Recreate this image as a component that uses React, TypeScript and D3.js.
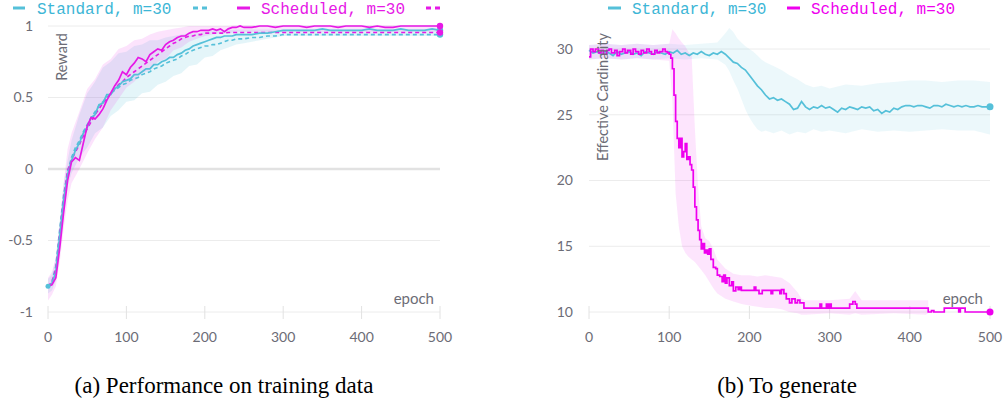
import React from 'react';
import * as d3 from 'd3';

// ---------------- DATA ----------------
const X_TICKS = [0, 100, 200, 300, 400, 500];
const L_Y_TICKS = [-1, -0.5, 0, 0.5, 1];
const L_Y_LABELS = ['-1', '-0.5', '0', '0.5', '1'];
const R_Y_TICKS = [10, 15, 20, 25, 30];

const SERIES_NAMES = ['Standard, m=30', 'Scheduled, m=30'];

// Left panel: reward, sampled epochs
const L_EPOCHS = [
  0, 5, 10, 15, 20, 25, 30, 35, 40, 45, 50, 55, 60, 65, 70, 75, 80, 85, 90, 95,
  100, 105, 110, 115, 120, 125, 130, 135, 140, 145, 150, 155, 160, 165, 170, 175, 180, 185, 190, 195,
  200, 205, 210, 215, 220, 225, 230, 235, 240, 245, 250,
  260, 270, 280, 290, 300, 310, 320, 330, 340, 350, 360, 370, 380, 390, 400,
  410, 420, 430, 440, 450, 460, 470, 480, 490, 500,
];
const L_STD = [
  -0.82, -0.8, -0.72, -0.47, -0.22, -0.04, 0.06, 0.13, 0.18, 0.25,
  0.29, 0.36, 0.38, 0.45, 0.46, 0.52, 0.52, 0.56, 0.58, 0.61,
  0.62, 0.63, 0.66, 0.66, 0.68, 0.7, 0.7, 0.73, 0.73, 0.75,
  0.76, 0.78, 0.78, 0.8, 0.81, 0.83, 0.84, 0.86, 0.87, 0.88,
  0.89, 0.9, 0.91, 0.92, 0.92, 0.93, 0.93, 0.93, 0.94, 0.94, 0.94,
  0.94, 0.95, 0.95, 0.96, 0.97, 0.97, 0.97, 0.97, 0.97, 0.98,
  0.97, 0.97, 0.97, 0.97, 0.97, 0.98, 0.97, 0.97, 0.97, 0.98,
  0.97, 0.97, 0.97, 0.98, 0.97,
];
const L_STD_DASH = [
  -0.83, -0.79, -0.68, -0.42, -0.18, -0.02, 0.08, 0.15, 0.2, 0.26,
  0.31, 0.36, 0.4, 0.44, 0.47, 0.5, 0.53, 0.55, 0.57, 0.59,
  0.6, 0.62, 0.63, 0.64, 0.66, 0.67, 0.68, 0.7, 0.71, 0.72,
  0.74, 0.75, 0.76, 0.77, 0.79, 0.8, 0.82, 0.83, 0.84, 0.85,
  0.86, 0.86, 0.87, 0.87, 0.88, 0.89, 0.9, 0.9, 0.91, 0.91, 0.91,
  0.92, 0.92, 0.93, 0.93, 0.94, 0.94, 0.94, 0.94, 0.94, 0.94,
  0.94, 0.94, 0.94, 0.94, 0.94, 0.94, 0.94, 0.94, 0.94, 0.94,
  0.94, 0.94, 0.94, 0.94, 0.94,
];
const L_SCH = [
  -0.82, -0.81, -0.76, -0.55, -0.3, -0.08, 0.05, 0.08, 0.06, 0.18,
  0.3, 0.36, 0.35, 0.38, 0.42, 0.48, 0.53, 0.58, 0.62, 0.68,
  0.66, 0.71, 0.74, 0.78, 0.77, 0.75, 0.8, 0.82, 0.84, 0.83,
  0.87, 0.89, 0.9, 0.92, 0.93, 0.93, 0.95, 0.96, 0.96, 0.97,
  0.97, 0.97, 0.98, 0.97, 0.98, 0.96, 0.98, 0.99, 0.99, 1.0, 0.99,
  0.99, 1.0, 1.0, 0.99, 1.0, 1.0, 1.0, 0.99, 1.0, 1.0,
  1.0, 0.99, 1.0, 1.0, 1.0, 0.99, 1.0, 0.99, 0.99, 1.0,
  1.0, 1.0, 1.0, 1.0, 1.0,
];
const L_SCH_DASH = [
  -0.82, -0.79, -0.7, -0.45, -0.2, -0.01, 0.06, 0.12, 0.17, 0.23,
  0.28, 0.33, 0.38, 0.42, 0.46, 0.49, 0.53, 0.56, 0.59, 0.61,
  0.64, 0.66, 0.68, 0.7, 0.72, 0.74, 0.76, 0.78, 0.8, 0.82,
  0.84, 0.86, 0.88, 0.89, 0.91, 0.92, 0.93, 0.93, 0.94, 0.94,
  0.95, 0.95, 0.95, 0.95, 0.95, 0.95, 0.955, 0.955, 0.955, 0.955, 0.955,
  0.955, 0.955, 0.955, 0.955, 0.955, 0.955, 0.955, 0.955, 0.955, 0.955,
  0.955, 0.955, 0.955, 0.955, 0.955, 0.955, 0.955, 0.955, 0.955, 0.955,
  0.955, 0.955, 0.955, 0.955, 0.955,
];

// Left panel: min/max bands
const L_BAND_EPOCHS = [
  0, 5, 10, 15, 20, 25, 30,
  40, 50, 60, 70, 80, 90, 100, 110, 120, 130,
  140, 150, 160, 170, 180, 190, 200, 210, 220, 230,
  240, 250, 260, 270, 280, 290, 300, 310, 320, 330, 340, 350, 360, 370, 380, 390, 400,
  410, 420, 430, 440, 450, 460, 470, 480, 490, 500,
];
const L_STD_LO = [
  -0.87, -0.85, -0.78, -0.56, -0.32, -0.12, -0.03,
  0.08, 0.15, 0.25, 0.29, 0.37, 0.41, 0.47, 0.48, 0.53, 0.54,
  0.59, 0.61, 0.65, 0.67, 0.72, 0.73, 0.78, 0.79, 0.83, 0.85,
  0.87, 0.88, 0.89, 0.9, 0.91, 0.92, 0.93, 0.93, 0.93, 0.93, 0.93, 0.93, 0.93, 0.93, 0.93, 0.93, 0.93,
  0.93, 0.93, 0.93, 0.93, 0.93, 0.93, 0.93, 0.93, 0.93, 0.93,
];
const L_STD_HI = [
  -0.77, -0.74, -0.62, -0.36, -0.1, 0.06, 0.2,
  0.38, 0.53, 0.61, 0.71, 0.75, 0.81, 0.82, 0.86, 0.87, 0.9,
  0.9, 0.92, 0.93, 0.94, 0.95, 0.95, 0.96, 0.97, 0.97, 0.97,
  0.975, 0.975, 0.975, 0.975, 0.975, 0.975, 0.975, 0.975, 0.975, 0.975, 0.975, 0.975, 0.975, 0.975, 0.975, 0.975, 0.975,
  0.975, 0.975, 0.975, 0.975, 0.975, 0.975, 0.975, 0.975, 0.975, 0.975,
];
const L_SCH_LO = [
  -0.92, -0.88, -0.82, -0.65, -0.42, -0.22, -0.1,
  0.0, 0.11, 0.21, 0.29, 0.41, 0.49, 0.57, 0.61, 0.67, 0.69,
  0.75, 0.77, 0.83, 0.85, 0.89, 0.91, 0.93, 0.94, 0.95, 0.95,
  0.96, 0.96, 0.96, 0.96, 0.96, 0.96, 0.96, 0.96, 0.96, 0.96, 0.96, 0.96, 0.96, 0.96, 0.96, 0.96, 0.96,
  0.96, 0.96, 0.96, 0.96, 0.96, 0.96, 0.96, 0.96, 0.96, 0.96,
];
const L_SCH_HI = [
  -0.76, -0.72, -0.62, -0.38, -0.1, 0.14, 0.25,
  0.4, 0.56, 0.63, 0.73, 0.77, 0.84, 0.86, 0.9, 0.91, 0.94,
  0.96, 0.97, 0.98, 0.99, 1.0, 1.0, 1.0, 1.0, 1.0, 1.0,
  1.005, 1.005, 1.005, 1.005, 1.005, 1.005, 1.005, 1.005, 1.005, 1.005, 1.005, 1.005, 1.005, 1.005, 1.005, 1.005, 1.005,
  1.005, 1.005, 1.005, 1.005, 1.005, 1.005, 1.005, 1.005, 1.005, 1.005,
];

// Right panel: effective cardinality
// Standard: one value every 5 epochs, 0..500
const R_STD = [
  29.9, 29.7, 29.8, 29.6, 29.8, 29.7, 29.5, 29.8, 29.6, 29.7, 29.8, 29.6, 29.7, 29.5, 29.8, 29.7, 29.6, 29.8, 29.7, 29.6, 29.8,
  29.7, 29.9, 29.6, 29.7, 29.5, 29.7, 29.6, 29.8, 29.6, 29.5, 29.7, 29.6, 29.8,
  29.6, 29.3, 29.0, 28.9, 28.6, 28.4, 28.0, 27.6, 27.2, 26.9, 26.5, 26.2, 26.3, 26.1, 26.2, 26.0, 25.8, 25.4, 25.5, 26.0,
  25.6, 25.4, 25.6, 25.5, 25.7, 25.5, 25.6, 25.4, 25.2, 25.5, 25.4, 25.6, 25.5, 25.4, 25.6, 25.5, 25.6, 25.3, 25.4, 25.1,
  25.3, 25.2, 25.5, 25.4, 25.6, 25.7, 25.7, 25.6, 25.7, 25.7, 25.6, 25.5, 25.7, 25.7, 25.6, 25.8, 25.7, 25.6, 25.7, 25.6,
  25.7, 25.6, 25.6, 25.7, 25.6, 25.6, 25.6,
];
const R_STD_STEP = 5;
const R_STD_BAND_EPOCHS = [0, 20, 40, 60, 80, 100, 120, 140, 160, 170, 175, 180, 185, 190, 195, 200, 205, 210, 215, 220, 230, 240, 250, 260, 270, 280, 290, 300, 320, 340, 360, 380, 400, 420, 440, 460, 480, 500];
const R_STD_LO = [29.2, 29.3, 29.2, 29.3, 29.2, 29.3, 29.2, 29.3, 29.2, 28.8, 28.3, 27.6, 27.0, 26.2, 25.4, 24.8, 24.3, 23.9, 23.7, 23.8, 23.6, 23.8, 23.5, 23.7, 23.6, 23.9, 23.7, 23.8, 23.6, 23.9, 23.7, 23.8, 23.7, 23.8, 23.9, 23.8, 23.8, 23.5];
const R_STD_HI = [30.3, 30.4, 30.3, 30.4, 30.3, 30.4, 30.3, 30.4, 30.5, 31.2, 31.6, 31.3, 30.8, 30.5, 30.2, 30.0, 29.8, 29.5, 29.2, 29.0, 28.7, 28.4, 28.0, 27.7, 27.3, 27.1, 27.2, 27.0, 27.3, 27.2, 27.4, 27.5, 27.6, 27.6, 27.5, 27.6, 27.6, 27.5];

// Scheduled: [epoch, value] change points (step line)
const R_SCH: [number, number][] = [
  [0, 29.4], [2, 30.0], [5, 29.8], [8, 30.0], [12, 29.7], [15, 29.9], [18, 29.6], [22, 29.9], [25, 30.0], [28, 29.7],
  [32, 29.9], [35, 29.5], [38, 29.8], [42, 30.0], [45, 29.7], [48, 29.9], [52, 29.6], [55, 30.0], [58, 29.8], [62, 29.6],
  [65, 29.9], [68, 29.7], [72, 30.0], [75, 29.8], [78, 29.6], [82, 29.9], [85, 29.7], [88, 29.8], [92, 30.0], [95, 29.8],
  [98, 29.7], [100, 29.6], [102, 29.3], [104, 28.5], [106, 26.5], [108, 24.5], [110, 23.2], [112, 22.5], [114, 23.2], [116, 21.8],
  [118, 22.2], [120, 22.8], [122, 21.6], [124, 21.8], [126, 21.2], [128, 20.8], [130, 19.5], [132, 18.0], [134, 17.0], [136, 16.2],
  [138, 15.5], [140, 14.8], [142, 15.2], [144, 14.5], [146, 14.7], [148, 14.4], [150, 14.8], [152, 14.0], [155, 13.4], [158, 13.3],
  [160, 12.8], [163, 12.7], [166, 12.3], [168, 12.8], [170, 12.2], [172, 12.6], [175, 12.0], [178, 12.3], [180, 11.6], [183, 11.9],
  [186, 11.7], [188, 11.9], [190, 11.65], [206, 11.9], [208, 11.65], [212, 11.4], [216, 11.65], [227, 11.4], [229, 11.65], [238, 11.4],
  [240, 11.7], [243, 11.4], [246, 11.0], [250, 10.7], [253, 11.0], [257, 10.7], [260, 10.9], [263, 10.7], [268, 10.3], [288, 10.6],
  [290, 10.3], [296, 10.6], [298, 10.3], [300, 10.6], [302, 10.3], [325, 10.6], [329, 10.8], [332, 10.6], [334, 10.3], [423, 10.0],
  [427, 10.1], [430, 10.0], [443, 10.3], [461, 10.0], [463, 10.3], [469, 10.0], [500, 10.0],
];
const R_SCH_BAND_EPOCHS = [0, 20, 40, 60, 80, 100, 104, 108, 112, 116, 120, 124, 128, 132, 136, 140, 145, 150, 155, 160, 170, 180, 190, 200, 210, 220, 230, 240, 250, 260, 265, 270, 300, 325, 332, 340, 380, 420, 423];
const R_SCH_LO = [29.2, 29.3, 29.2, 29.3, 29.2, 29.1, 26.0, 19.0, 16.5, 15.0, 14.5, 14.2, 14.0, 13.8, 13.5, 13.2, 12.8, 12.3, 11.8, 11.4, 11.0, 10.8, 10.6, 10.5, 10.4, 10.3, 10.3, 10.2, 10.0, 9.9, 9.8, 9.8, 9.9, 9.8, 9.9, 9.8, 9.9, 9.8, 9.9];
const R_SCH_HI = [30.3, 30.4, 30.3, 30.4, 30.3, 30.4, 31.5, 31.2, 30.8, 30.5, 30.2, 29.8, 29.5, 24.0, 19.5, 16.5, 15.6, 15.4, 14.8, 14.0, 13.3, 12.9, 12.8, 12.8, 12.7, 12.8, 12.7, 12.6, 12.2, 11.5, 11.0, 10.9, 10.9, 11.0, 11.6, 10.9, 10.9, 10.9, 10.9];

const CAPTIONS = ['(a) Performance on training data', '(b) To generate'];

// ---------------- STYLE ----------------
const CYAN = '#55c0d9';
const CYAN_TEXT = '#3db6d6';
const MAGENTA = '#e619e6';
const MAGENTA_R = '#ee00ee';
const GRID = '#ececec';
const TICK_TEXT = '#6c6c76';
const SANS = 'Lato, "Open Sans", sans-serif';
const MONO = '"Liberation Mono", "DejaVu Sans Mono", monospace';
const SERIF = '"Liberation Serif", "Times New Roman", serif';

type Pt = [number, number];
const zip = (xs: number[], ys: number[]): Pt[] => xs.map((x, i) => [x, ys[i]] as Pt);

export default function App() {
  // Left scales
  const xL = d3.scaleLinear().domain([0, 500]).range([48, 440]);
  const yL = d3.scaleLinear().domain([-1, 1]).range([312, 26]);
  // Right scales
  const xR = d3.scaleLinear().domain([0, 500]).range([589, 990]);
  const yR = d3.scaleLinear().domain([10, 30]).range([312, 49]);

  const lineL = d3.line<Pt>().x((d) => xL(d[0])).y((d) => yL(d[1]));
  const areaL = d3
    .area<[number, number, number]>()
    .x((d) => xL(d[0]))
    .y0((d) => yL(d[1]))
    .y1((d) => yL(d[2]));
  const lineR = d3.line<Pt>().x((d) => xR(d[0])).y((d) => yR(d[1]));
  const stepR = d3.line<Pt>().x((d) => xR(d[0])).y((d) => yR(d[1])).curve(d3.curveStepAfter);
  const areaR = d3
    .area<[number, number, number]>()
    .x((d) => xR(d[0]))
    .y0((d) => yR(d[1]))
    .y1((d) => yR(d[2]));

  const bandL = (lo: number[], hi: number[]) =>
    L_BAND_EPOCHS.map((e, i) => [e, lo[i], hi[i]] as [number, number, number]);

  const lStd = zip(L_EPOCHS, L_STD);
  const lStdD = zip(L_EPOCHS, L_STD_DASH);
  const lSch = zip(L_EPOCHS, L_SCH);
  const lSchD = zip(L_EPOCHS, L_SCH_DASH);

  const rStd: Pt[] = R_STD.map((v, i) => [i * R_STD_STEP, v]);
  const rStdBand = R_STD_BAND_EPOCHS.map((e, i) => [e, R_STD_LO[i], R_STD_HI[i]] as [number, number, number]);
  const rSchBand = R_SCH_BAND_EPOCHS.map((e, i) => [e, R_SCH_LO[i], R_SCH_HI[i]] as [number, number, number]);

  const last = (a: Pt[]) => a[a.length - 1];

  const xAxis = (x: d3.ScaleLinear<number, number>, y0: number) => (
    <g>
      {X_TICKS.map((t) => (
        <g key={t}>
          <line x1={x(t)} x2={x(t)} y1={y0 - 6} y2={y0 + 7} stroke="#e2e2e2" strokeWidth={1} />
          <text x={x(t)} y={y0 + 30} textAnchor="middle" fontSize={14} fill={TICK_TEXT} fontFamily={SANS}>
            {t}
          </text>
        </g>
      ))}
    </g>
  );

  return (
    <svg width={1005} height={406} style={{ position: 'absolute', left: 0, top: 0, background: '#fff' }}>
      {/* ================= LEFT PANEL ================= */}
      <g>
        {L_Y_TICKS.map((t, i) => (
          <g key={t}>
            <line
              x1={48}
              x2={440}
              y1={yL(t)}
              y2={yL(t)}
              stroke={t === 0 ? '#e2e2e2' : GRID}
              strokeWidth={t === 0 ? 2.5 : 1}
            />
            <text x={33} y={yL(t)} dy="0.35em" textAnchor="end" fontSize={14} fill={TICK_TEXT} fontFamily={SANS}>
              {L_Y_LABELS[i]}
            </text>
          </g>
        ))}
        {xAxis(xL, 312)}

        <path d={areaL(bandL(L_STD_LO, L_STD_HI)) || ''} fill={CYAN} fillOpacity={0.16} />
        <path d={areaL(bandL(L_SCH_LO, L_SCH_HI)) || ''} fill={MAGENTA} fillOpacity={0.12} />

        <path d={lineL(lStdD) || ''} fill="none" stroke={CYAN} strokeWidth={1.6} strokeDasharray="4,3" />
        <path d={lineL(lSchD) || ''} fill="none" stroke={MAGENTA} strokeWidth={1.6} strokeDasharray="4,3" />
        <path d={lineL(lStd) || ''} fill="none" stroke={CYAN} strokeWidth={1.7} />
        <path d={lineL(lSch) || ''} fill="none" stroke={MAGENTA} strokeWidth={1.7} />
        {[
          [lStdD, CYAN],
          [lStd, CYAN],
          [lSchD, MAGENTA],
          [lSch, MAGENTA],
        ].map(([s, c], i) => {
          const p = last(s as Pt[]);
          return <circle key={i} cx={xL(p[0])} cy={yL(p[1])} r={3.2} fill={c as string} />;
        })}
        {/* start points */}
        <circle cx={xL(L_EPOCHS[0])} cy={yL(L_STD[0])} r={2.5} fill={CYAN} />

        <text
          transform="translate(67,33) rotate(-90)"
          textAnchor="end"
          fontSize={14.5}
          fill={TICK_TEXT}
          fontFamily={SANS}
        >
          Reward
        </text>
        <text x={434} y={304} textAnchor="end" fontSize={15} fill={TICK_TEXT} fontFamily={SANS}>
          epoch
        </text>

        {/* legend */}
        <line x1={13} x2={25} y1={8} y2={8} stroke={CYAN} strokeWidth={3} />
        <text x={37} y={14} fontSize={16} fill={CYAN_TEXT} fontFamily={MONO}>
          {SERIES_NAMES[0]}
        </text>
        <line x1={193} x2={208} y1={8} y2={8} stroke={CYAN} strokeWidth={3} strokeDasharray="5,4" />
        <line x1={237} x2={250} y1={8} y2={8} stroke={MAGENTA} strokeWidth={3} />
        <text x={261} y={14} fontSize={16} fill={MAGENTA} fontFamily={MONO}>
          {SERIES_NAMES[1]}
        </text>
        <line x1={426} x2={441} y1={8} y2={8} stroke={MAGENTA} strokeWidth={3} strokeDasharray="5,4" />
      </g>

      {/* ================= RIGHT PANEL ================= */}
      <g>
        {R_Y_TICKS.map((t) => (
          <g key={t}>
            <line x1={589} x2={990} y1={yR(t)} y2={yR(t)} stroke={GRID} strokeWidth={1} />
            <text x={573} y={yR(t)} dy="0.35em" textAnchor="end" fontSize={14} fill={TICK_TEXT} fontFamily={SANS}>
              {t}
            </text>
          </g>
        ))}
        {xAxis(xR, 312)}

        <path d={areaR(rStdBand) || ''} fill={CYAN} fillOpacity={0.11} />
        <path d={areaR(rSchBand) || ''} fill={MAGENTA_R} fillOpacity={0.1} />

        <path d={lineR(rStd) || ''} fill="none" stroke={CYAN} strokeWidth={1.7} />
        <path d={stepR(R_SCH) || ''} fill="none" stroke={MAGENTA_R} strokeWidth={1.7} />
        <circle cx={xR(last(rStd)[0])} cy={yR(last(rStd)[1])} r={3.5} fill={CYAN} />
        <circle cx={xR(last(R_SCH)[0])} cy={yR(last(R_SCH)[1])} r={3.5} fill={MAGENTA_R} />

        <text
          transform="translate(608,33) rotate(-90)"
          textAnchor="end"
          fontSize={14.5}
          fill={TICK_TEXT}
          fontFamily={SANS}
        >
          Effective Cardinality
        </text>
        <text x={983} y={304} textAnchor="end" fontSize={15} fill={TICK_TEXT} fontFamily={SANS}>
          epoch
        </text>

        {/* legend */}
        <line x1={608} x2={621} y1={8} y2={8} stroke={CYAN} strokeWidth={3} />
        <text x={632} y={14} fontSize={16} fill={CYAN_TEXT} fontFamily={MONO}>
          {SERIES_NAMES[0]}
        </text>
        <line x1={787} x2={800} y1={8} y2={8} stroke={MAGENTA_R} strokeWidth={3} />
        <text x={811} y={14} fontSize={16} fill={MAGENTA_R} fontFamily={MONO}>
          {SERIES_NAMES[1]}
        </text>
      </g>

      {/* captions */}
      <text x={224} y={393} textAnchor="middle" fontSize={23} fill="#000" fontFamily={SERIF}>
        {CAPTIONS[0]}
      </text>
      <text x={787} y={393} textAnchor="middle" fontSize={23} fill="#000" fontFamily={SERIF}>
        {CAPTIONS[1]}
      </text>
    </svg>
  );
}
